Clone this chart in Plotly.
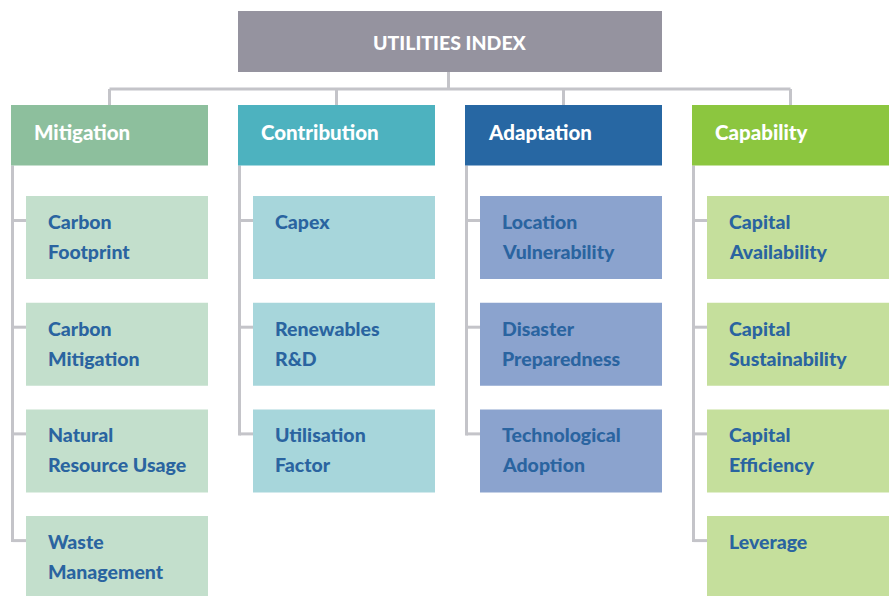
import plotly.graph_objects as go

# ---- data ----
root_label = "UTILITIES INDEX"
categories = ["Mitigation", "Contribution", "Adaptation", "Capability"]
children = [
    ["Carbon\nFootprint", "Carbon\nMitigation", "Natural\nResource Usage", "Waste\nManagement"],
    ["Capex", "Renewables\nR&D", "Utilisation\nFactor"],
    ["Location\nVulnerability", "Disaster\nPreparedness", "Technological\nAdoption"],
    ["Capital\nAvailability", "Capital\nSustainability", "Capital\nEfficiency", "Leverage"],
]
cat_colors = ["#8DBF9D", "#4DB2BF", "#2767A3", "#8CC63F"]
child_colors = ["#C3DFCC", "#A7D6DB", "#8BA3CE", "#C5DF9C"]
root_color = "#95939F"
line_color = "#C4C4C9"
text_blue = "#2A64A0"
FONT = "Lato"
WEIGHT = 900

W, H = 891, 596
fig = go.Figure()
shapes, annos = [], []

def rect(x0, y0, x1, y1, color):
    shapes.append(dict(type="rect", xref="x", yref="y", x0=x0, y0=y0, x1=x1, y1=y1,
                       fillcolor=color, line=dict(width=0), layer="above"))

def line(x0, y0, x1, y1):
    shapes.append(dict(type="line", xref="x", yref="y", x0=x0, y0=y0, x1=x1, y1=y1,
                       line=dict(color=line_color, width=3), layer="below"))

# root
rx0, rx1, ry0, ry1 = 238, 662, 11, 72
rect(rx0, ry0, rx1, ry1, root_color)
annos.append(dict(x=(rx0 + rx1) / 2, y=(ry0 + ry1) / 2 + 0.5, text=root_label,
                  showarrow=False, xanchor="center", yanchor="middle",
                  font=dict(family=FONT, size=19.5, color="white", weight=WEIGHT)))

# top connectors
bus_y = 89
line(448.5, ry1, 448.5, bus_y)
cat_w, cat_step, cat_x0 = 197, 227, 11
cy0, cy1 = 105, 165.5
centers = [cat_x0 + i * cat_step + cat_w / 2 for i in range(len(categories))]
line(centers[0], bus_y, centers[-1], bus_y)

child_top0, child_step, child_h = 196, 106.7, 83

for i, (cat, kids) in enumerate(zip(categories, children)):
    x0 = cat_x0 + i * cat_step
    x1 = x0 + cat_w
    line(centers[i], bus_y, centers[i], cy0)
    rect(x0, cy0, x1, cy1, cat_colors[i])
    annos.append(dict(x=x0 + 20.5, y=cy0 + 26.5, text=cat,
                      showarrow=False, xanchor="left", yanchor="middle",
                      font=dict(family=FONT, size=20.5, color="white", weight=WEIGHT)))
    vx = x0 + 1.5
    last_tick = None
    for j, kid in enumerate(kids):
        ty0 = child_top0 + j * child_step
        ty1 = ty0 + child_h
        tick_y = ty0 + 24.5
        last_tick = tick_y
        line(vx, tick_y, x0 + 15, tick_y)
        rect(x0 + 15, ty0, x1, ty1, child_colors[i])
        for k, part in enumerate(kid.split("\n")):
            annos.append(dict(x=x0 + 35, y=ty0 + 25.5 + k * 30, text=part,
                              showarrow=False, xanchor="left", yanchor="middle",
                              font=dict(family=FONT, size=19.5, color=text_blue, weight=WEIGHT)))
    line(vx, cy1, vx, last_tick + 1.5)

fig.update_layout(
    width=W, height=H, margin=dict(l=0, r=0, t=0, b=0),
    paper_bgcolor="white", plot_bgcolor="white",
    xaxis=dict(range=[0, W], visible=False, fixedrange=True),
    yaxis=dict(range=[H, 0], visible=False, fixedrange=True),
    shapes=shapes, annotations=annos, showlegend=False,
)
fig.write_html("out.html", config={"displayModeBar": False},
               post_script="document.body.style.margin='0px';document.body.style.overflow='hidden';")
